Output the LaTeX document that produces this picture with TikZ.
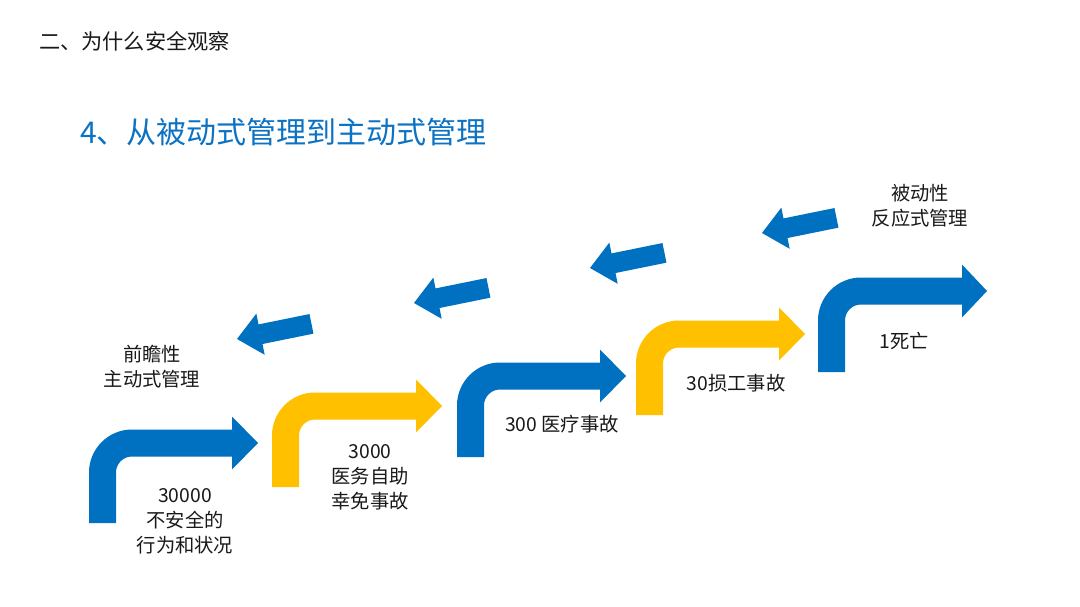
\documentclass[tikz,border=0pt]{standalone}
\usepackage{fontspec}
\setmainfont{Noto Sans CJK SC}
\definecolor{myblue}{HTML}{0070C0}
\definecolor{myyellow}{HTML}{FFC000}
\definecolor{titleblue}{HTML}{0B72C4}
\newcommand\bentarrow[6]{% color, left x, bottom y, shaft centre y, head base x, tip x
\fill[#1] (#2,#3) -- (#2,{#4-13.5+43})
  .. controls (#2,{#4-13.5+43-23.7}) and ({#2+43-23.7},{#4-13.5}) .. ({#2+43},{#4-13.5})
  -- (#5,{#4-13.5}) -- (#5,{#4-26.5}) -- (#6,#4) -- (#5,{#4+26.5}) -- (#5,{#4+13.5})
  -- ({#2+27+16},{#4+13.5})
  .. controls ({#2+27+16-8.8},{#4+13.5}) and ({#2+27},{#4+13.5+16-8.8}) .. ({#2+27},{#4+13.5+16})
  -- ({#2+27},#3) -- cycle;}
\tikzset{
  backarrow/.pic={\fill[myblue] (0,0) -- (24,-21) -- (24,-10) -- (76,-10) -- (76,10) -- (24,10) -- (24,21) -- cycle;},
  lbl/.style={inner sep=0pt, align=center, font=\fontsize{19.3}{25}\selectfont, text=black!90}
}
\begin{document}
\begin{tikzpicture}[x=1pt,y=-1pt]
\useasboundingbox (0,0) rectangle (1080,607);
\fill[white] (0,0) rectangle (1080,607);
% headings
\node[inner sep=0pt, anchor=west, font=\fontsize{21.2}{25}\selectfont, text=black!90] (head) at (39,41) {二、为什么安全观察};
\node[inner sep=0pt, anchor=west, font=\fontsize{30}{34}\selectfont, text=titleblue] (title) at (80,132) {4、从被动式管理到主动式管理};
% bent arrows
\bentarrow{myblue}{89}{523}{443}{232}{258}
\bentarrow{myyellow}{272}{487}{406}{416}{442}
\bentarrow{myblue}{457}{457}{376}{600}{626}
\bentarrow{myyellow}{636}{415}{334}{779}{805}
\bentarrow{myblue}{818}{372}{291}{962}{987}
% back arrows
\pic[rotate=11.5] at (237,339) {backarrow};
\pic[rotate=11.5] at (414,303) {backarrow};
\pic[rotate=11.5] at (590,268) {backarrow};
\pic[rotate=11.5] at (762,233) {backarrow};
% labels
\node[lbl] (pro) at (152,367) {前瞻性\\主动式管理};
\node[lbl] (re) at (920,206) {被动性\\反应式管理};
\node[lbl] (l1) at (185,521) {30000\\不安全的\\行为和状况};
\node[lbl] (l2) at (370,477) {3000\\医务自助\\幸免事故};
\node[lbl] (l3) at (562,424) {300 医疗事故};
\node[lbl] (l4) at (736,383) {30损工事故};
\node[lbl] (l5) at (904,341) {1死亡};
\end{tikzpicture}
\end{document}
